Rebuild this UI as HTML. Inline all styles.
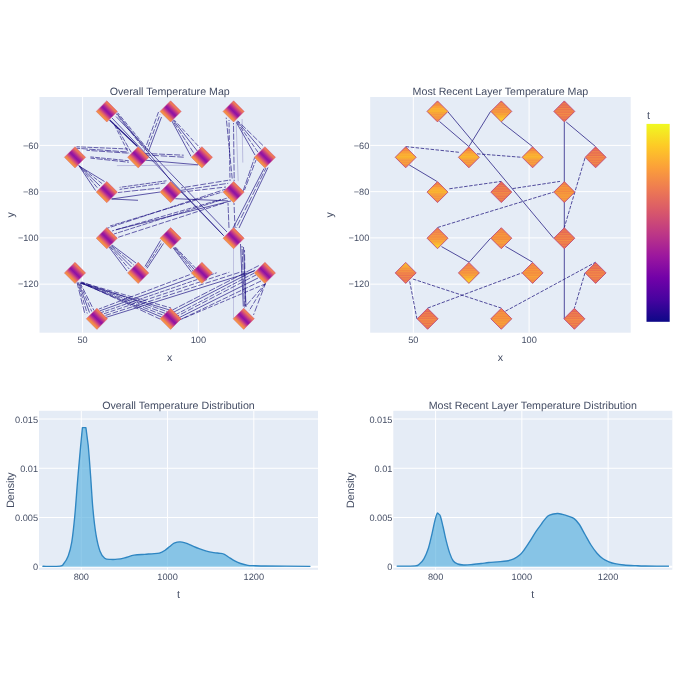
<!DOCTYPE html><html><head><meta charset="utf-8"><title>Temperature Maps</title><style>html,body{margin:0;padding:0;background:#fff;overflow:hidden}svg{display:block}</style></head><body>
<svg width="680" height="680" viewBox="0 0 680 680" font-family="'Liberation Sans', Arial, sans-serif" text-rendering="geometricPrecision">
<rect width="680" height="680" fill="#fff"/>
<defs>
<linearGradient id="cb" x1="0" y1="1" x2="0" y2="0"><stop offset="0.0000" stop-color="#0d0887"/><stop offset="0.1111" stop-color="#46039f"/><stop offset="0.2222" stop-color="#7201a8"/><stop offset="0.3333" stop-color="#9c179e"/><stop offset="0.4444" stop-color="#bd3786"/><stop offset="0.5556" stop-color="#d8576b"/><stop offset="0.6667" stop-color="#ed7953"/><stop offset="0.7778" stop-color="#fb9f3a"/><stop offset="0.8889" stop-color="#fdca26"/><stop offset="1.0000" stop-color="#f0f921"/></linearGradient>
<linearGradient id="dA" x1="0.75" y1="0.25" x2="0.25" y2="0.75"><stop offset="0" stop-color="#e86858"/><stop offset="0.08" stop-color="#f08050"/><stop offset="0.16" stop-color="#e06466"/><stop offset="0.28" stop-color="#c83c84"/><stop offset="0.4" stop-color="#a01e9c"/><stop offset="0.5" stop-color="#8e12a2"/><stop offset="0.6" stop-color="#a8249a"/><stop offset="0.7" stop-color="#cc4682"/><stop offset="0.8" stop-color="#e66a60"/><stop offset="0.9" stop-color="#f28a48"/><stop offset="1" stop-color="#f4a03c"/></linearGradient>
<linearGradient id="dYm" x1="0" y1="0" x2="0" y2="1"><stop offset="0" stop-color="#e86e50"/><stop offset="0.2" stop-color="#f4883f"/><stop offset="0.35" stop-color="#fba934"/><stop offset="0.5" stop-color="#f8b02e"/><stop offset="0.62" stop-color="#f59640"/><stop offset="0.8" stop-color="#f4903f"/><stop offset="1" stop-color="#ec7650"/></linearGradient>
<linearGradient id="dYb" x1="0" y1="0" x2="0" y2="1"><stop offset="0" stop-color="#e86e50"/><stop offset="0.25" stop-color="#f0804a"/><stop offset="0.5" stop-color="#f48c42"/><stop offset="0.7" stop-color="#f8a534"/><stop offset="0.85" stop-color="#fbc62a"/><stop offset="1" stop-color="#f6d028"/></linearGradient>
<linearGradient id="dYt" x1="0" y1="0" x2="0" y2="1"><stop offset="0" stop-color="#f6c02c"/><stop offset="0.2" stop-color="#f7a236"/><stop offset="0.45" stop-color="#ef7c4a"/><stop offset="0.7" stop-color="#ea6e52"/><stop offset="1" stop-color="#e8704e"/></linearGradient>
<linearGradient id="dO" x1="0" y1="0" x2="0" y2="1"><stop offset="0" stop-color="#ec7450"/><stop offset="0.3" stop-color="#f4883f"/><stop offset="0.5" stop-color="#f3873f"/><stop offset="0.7" stop-color="#f6963a"/><stop offset="1" stop-color="#ee7a4a"/></linearGradient>
<linearGradient id="dR" x1="0" y1="0" x2="0" y2="1"><stop offset="0" stop-color="#e05c5c"/><stop offset="0.3" stop-color="#e86a52"/><stop offset="0.6" stop-color="#ee784b"/><stop offset="1" stop-color="#e46356"/></linearGradient>
<pattern id="hs" patternUnits="userSpaceOnUse" width="6" height="2.4"><rect x="0" y="0" width="6" height="1.1" fill="#fcc63a" opacity="0.3"/></pattern>
<clipPath id="c1"><rect x="39.5" y="97.0" width="260.50" height="235.70"/></clipPath>
<clipPath id="c2"><rect x="370.2" y="97.0" width="260.50" height="235.70"/></clipPath>
<clipPath id="c3"><rect x="39.0" y="410.8" width="279.00" height="159.00"/></clipPath>
<clipPath id="c4"><rect x="393.3" y="410.8" width="279.00" height="159.00"/></clipPath>
</defs>
<rect x="39.50" y="97.00" width="260.50" height="235.70" fill="#E5ECF6"/>
<line x1="82.60" y1="97.00" x2="82.60" y2="332.70" stroke="#fff" stroke-width="1"/>
<line x1="198.40" y1="97.00" x2="198.40" y2="332.70" stroke="#fff" stroke-width="1"/>
<line x1="39.50" y1="145.40" x2="300.00" y2="145.40" stroke="#fff" stroke-width="1"/>
<line x1="39.50" y1="191.65" x2="300.00" y2="191.65" stroke="#fff" stroke-width="1"/>
<line x1="39.50" y1="237.90" x2="300.00" y2="237.90" stroke="#fff" stroke-width="1"/>
<line x1="39.50" y1="284.15" x2="300.00" y2="284.15" stroke="#fff" stroke-width="1"/>
<rect x="370.20" y="97.00" width="260.50" height="235.70" fill="#E5ECF6"/>
<line x1="413.30" y1="97.00" x2="413.30" y2="332.70" stroke="#fff" stroke-width="1"/>
<line x1="529.10" y1="97.00" x2="529.10" y2="332.70" stroke="#fff" stroke-width="1"/>
<line x1="370.20" y1="145.40" x2="630.70" y2="145.40" stroke="#fff" stroke-width="1"/>
<line x1="370.20" y1="191.65" x2="630.70" y2="191.65" stroke="#fff" stroke-width="1"/>
<line x1="370.20" y1="237.90" x2="630.70" y2="237.90" stroke="#fff" stroke-width="1"/>
<line x1="370.20" y1="284.15" x2="630.70" y2="284.15" stroke="#fff" stroke-width="1"/>
<g clip-path="url(#c1)">
<line x1="109.60" y1="120.00" x2="137.50" y2="146.50" stroke="#170a7e" stroke-width="1.1" opacity="0.95"/>
<line x1="116.15" y1="113.70" x2="143.70" y2="148.35" stroke="#170a7e" stroke-width="0.7" opacity="0.9" stroke-dasharray="5.3 1.3" stroke-dashoffset="3.3"/>
<line x1="117.65" y1="112.70" x2="145.70" y2="146.85" stroke="#170a7e" stroke-width="0.7" opacity="0.9" stroke-dasharray="4.7 1.6" stroke-dashoffset="1.8"/>
<line x1="114.50" y1="125.00" x2="128.75" y2="153.40" stroke="#170a7e" stroke-width="0.7" opacity="0.9" stroke-dasharray="4.6 1.6" stroke-dashoffset="0.2"/>
<line x1="115.50" y1="125.00" x2="131.25" y2="152.40" stroke="#170a7e" stroke-width="0.7" opacity="0.9" stroke-dasharray="5.6 1.3" stroke-dashoffset="0.5"/>
<line x1="117.00" y1="113.50" x2="171.00" y2="181.00" stroke="#170a7e" stroke-width="0.7" opacity="0.95"/>
<line x1="112.00" y1="118.00" x2="224.00" y2="236.00" stroke="#170a7e" stroke-width="0.7" opacity="0.95"/>
<line x1="116.00" y1="116.50" x2="227.00" y2="232.00" stroke="#170a7e" stroke-width="0.7" opacity="0.95"/>
<line x1="171.00" y1="181.50" x2="223.00" y2="235.00" stroke="#170a7e" stroke-width="0.7" opacity="0.95"/>
<line x1="158.50" y1="112.00" x2="144.50" y2="150.50" stroke="#170a7e" stroke-width="0.7" opacity="0.9" stroke-dasharray="5.6 1.9" stroke-dashoffset="0.6"/>
<line x1="160.00" y1="114.50" x2="146.50" y2="151.00" stroke="#170a7e" stroke-width="0.7" opacity="0.9" stroke-dasharray="5.1 1.7" stroke-dashoffset="4.7"/>
<line x1="161.50" y1="117.00" x2="148.50" y2="151.50" stroke="#170a7e" stroke-width="0.7" opacity="0.95"/>
<line x1="172.00" y1="121.25" x2="191.05" y2="156.45" stroke="#170a7e" stroke-width="0.7" opacity="0.95"/>
<line x1="172.67" y1="120.75" x2="194.28" y2="153.88" stroke="#170a7e" stroke-width="0.7" opacity="0.9" stroke-dasharray="5.9 1.5" stroke-dashoffset="4.9"/>
<line x1="173.33" y1="120.25" x2="197.52" y2="151.32" stroke="#170a7e" stroke-width="0.7" opacity="0.95"/>
<line x1="174.00" y1="119.75" x2="200.75" y2="148.75" stroke="#170a7e" stroke-width="0.7" opacity="0.9" stroke-dasharray="4.6 1.9" stroke-dashoffset="1.4"/>
<line x1="76.50" y1="146.75" x2="128.00" y2="149.00" stroke="#170a7e" stroke-width="0.7" opacity="0.9" stroke-dasharray="4.9 1.3" stroke-dashoffset="1.5"/>
<line x1="76.50" y1="148.25" x2="128.00" y2="152.00" stroke="#170a7e" stroke-width="0.7" opacity="0.9" stroke-dasharray="6.5 1.3" stroke-dashoffset="2.9"/>
<line x1="86.50" y1="150.30" x2="128.80" y2="153.20" stroke="#170a7e" stroke-width="0.7" opacity="0.9" stroke-dasharray="6.1 1.5" stroke-dashoffset="2.7"/>
<line x1="90.40" y1="156.90" x2="128.80" y2="160.75" stroke="#170a7e" stroke-width="0.7" opacity="0.9" stroke-dasharray="4.7 1.2" stroke-dashoffset="1.0"/>
<line x1="90.40" y1="158.10" x2="128.80" y2="162.25" stroke="#170a7e" stroke-width="0.7" opacity="0.9" stroke-dasharray="6.2 1.5" stroke-dashoffset="1.6"/>
<line x1="145.30" y1="153.45" x2="183.70" y2="155.20" stroke="#170a7e" stroke-width="0.7" opacity="0.9" stroke-dasharray="6.0 1.6" stroke-dashoffset="1.5"/>
<line x1="145.30" y1="154.95" x2="183.70" y2="157.20" stroke="#170a7e" stroke-width="0.7" opacity="0.9" stroke-dasharray="6.5 1.8" stroke-dashoffset="1.2"/>
<line x1="145.30" y1="160.20" x2="198.20" y2="164.80" stroke="#170a7e" stroke-width="0.7" opacity="0.95"/>
<line x1="116.90" y1="165.60" x2="198.20" y2="165.20" stroke="#8c88c4" stroke-width="0.8" opacity="0.6"/>
<line x1="226.20" y1="117.60" x2="232.20" y2="178.50" stroke="#170a7e" stroke-width="0.7" opacity="0.9" stroke-dasharray="5.9 1.6" stroke-dashoffset="4.4"/>
<line x1="233.50" y1="123.00" x2="234.20" y2="181.20" stroke="#170a7e" stroke-width="0.7" opacity="0.9" stroke-dasharray="6.3 1.4" stroke-dashoffset="4.9"/>
<line x1="236.20" y1="123.00" x2="238.20" y2="181.20" stroke="#8c88c4" stroke-width="0.8" opacity="0.6"/>
<line x1="242.10" y1="119.00" x2="242.80" y2="162.60" stroke="#8c88c4" stroke-width="0.8" opacity="0.6"/>
<line x1="229.00" y1="120.00" x2="230.00" y2="181.00" stroke="#170a7e" stroke-width="0.7" opacity="0.9" stroke-dasharray="4.8 1.5" stroke-dashoffset="3.8"/>
<line x1="236.25" y1="122.25" x2="255.00" y2="155.05" stroke="#170a7e" stroke-width="0.7" opacity="0.95"/>
<line x1="236.75" y1="121.75" x2="258.00" y2="152.22" stroke="#170a7e" stroke-width="0.7" opacity="0.9" stroke-dasharray="4.9 1.6" stroke-dashoffset="0.2"/>
<line x1="237.25" y1="121.25" x2="261.00" y2="149.38" stroke="#170a7e" stroke-width="0.7" opacity="0.95"/>
<line x1="237.75" y1="120.75" x2="264.00" y2="146.55" stroke="#170a7e" stroke-width="0.7" opacity="0.9" stroke-dasharray="6.2 1.8" stroke-dashoffset="2.9"/>
<line x1="254.70" y1="157.40" x2="242.80" y2="191.80" stroke="#170a7e" stroke-width="0.7" opacity="0.9" stroke-dasharray="6.7 1.5" stroke-dashoffset="3.5"/>
<line x1="256.00" y1="160.00" x2="244.50" y2="190.00" stroke="#170a7e" stroke-width="0.7" opacity="0.9" stroke-dasharray="6.0 1.7" stroke-dashoffset="2.3"/>
<line x1="264.00" y1="168.50" x2="233.00" y2="228.00" stroke="#170a7e" stroke-width="0.7" opacity="0.95"/>
<line x1="266.00" y1="168.00" x2="236.00" y2="228.00" stroke="#170a7e" stroke-width="0.7" opacity="0.9" stroke-dasharray="6.6 2.0" stroke-dashoffset="2.4"/>
<line x1="268.00" y1="167.50" x2="239.00" y2="228.00" stroke="#170a7e" stroke-width="0.7" opacity="0.95"/>
<line x1="228.00" y1="203.00" x2="229.00" y2="228.00" stroke="#170a7e" stroke-width="0.7" opacity="0.9" stroke-dasharray="6.2 1.2" stroke-dashoffset="3.5"/>
<line x1="234.00" y1="203.00" x2="235.00" y2="228.00" stroke="#170a7e" stroke-width="0.7" opacity="0.9" stroke-dasharray="6.1 2.0" stroke-dashoffset="4.1"/>
<line x1="78.70" y1="165.40" x2="95.50" y2="190.50" stroke="#170a7e" stroke-width="0.7" opacity="0.95"/>
<line x1="78.95" y1="165.65" x2="97.75" y2="188.25" stroke="#170a7e" stroke-width="0.7" opacity="0.9" stroke-dasharray="5.2 1.5" stroke-dashoffset="3.3"/>
<line x1="79.20" y1="165.90" x2="100.00" y2="186.00" stroke="#170a7e" stroke-width="0.7" opacity="0.95"/>
<line x1="79.45" y1="166.15" x2="102.25" y2="183.75" stroke="#170a7e" stroke-width="0.7" opacity="0.9" stroke-dasharray="4.6 1.6" stroke-dashoffset="0.8"/>
<line x1="79.70" y1="166.40" x2="104.50" y2="181.50" stroke="#170a7e" stroke-width="0.7" opacity="0.95"/>
<line x1="111.60" y1="199.00" x2="138.00" y2="200.30" stroke="#170a7e" stroke-width="0.7" opacity="0.95"/>
<line x1="111.60" y1="199.00" x2="160.00" y2="192.00" stroke="#170a7e" stroke-width="0.7" opacity="0.95"/>
<line x1="119.60" y1="187.40" x2="166.50" y2="180.80" stroke="#170a7e" stroke-width="0.7" opacity="0.9" stroke-dasharray="4.8 1.2" stroke-dashoffset="3.8"/>
<line x1="119.60" y1="189.40" x2="166.50" y2="182.80" stroke="#170a7e" stroke-width="0.7" opacity="0.9" stroke-dasharray="4.8 1.4" stroke-dashoffset="2.0"/>
<line x1="118.00" y1="192.50" x2="160.00" y2="188.00" stroke="#170a7e" stroke-width="0.7" opacity="0.9" stroke-dasharray="6.7 1.3" stroke-dashoffset="2.2"/>
<line x1="181.20" y1="187.85" x2="228.20" y2="180.30" stroke="#170a7e" stroke-width="0.7" opacity="0.9" stroke-dasharray="5.9 1.9" stroke-dashoffset="4.1"/>
<line x1="181.20" y1="190.35" x2="228.20" y2="183.30" stroke="#170a7e" stroke-width="0.7" opacity="0.9" stroke-dasharray="6.7 1.4" stroke-dashoffset="2.1"/>
<line x1="178.00" y1="192.50" x2="226.00" y2="187.00" stroke="#170a7e" stroke-width="0.7" opacity="0.9" stroke-dasharray="5.4 1.9" stroke-dashoffset="4.8"/>
<line x1="175.30" y1="198.70" x2="228.20" y2="200.90" stroke="#170a7e" stroke-width="0.7" opacity="0.95"/>
<line x1="110.00" y1="226.00" x2="222.40" y2="192.00" stroke="#170a7e" stroke-width="0.7" opacity="0.9" stroke-dasharray="4.9 1.3" stroke-dashoffset="1.2"/>
<line x1="112.00" y1="231.00" x2="221.00" y2="199.40" stroke="#170a7e" stroke-width="0.7" opacity="0.9" stroke-dasharray="5.1 1.6" stroke-dashoffset="2.9"/>
<line x1="114.00" y1="234.00" x2="229.00" y2="197.50" stroke="#170a7e" stroke-width="0.7" opacity="0.9" stroke-dasharray="5.2 1.2" stroke-dashoffset="2.1"/>
<line x1="116.00" y1="238.00" x2="224.00" y2="203.00" stroke="#170a7e" stroke-width="0.7" opacity="0.9" stroke-dasharray="5.4 1.7" stroke-dashoffset="4.8"/>
<line x1="106.50" y1="228.50" x2="226.00" y2="189.00" stroke="#170a7e" stroke-width="0.7" opacity="0.9" stroke-dasharray="6.2 1.6" stroke-dashoffset="3.1"/>
<line x1="116.00" y1="229.70" x2="231.20" y2="200.90" stroke="#170a7e" stroke-width="0.7" opacity="0.95"/>
<line x1="240.50" y1="244.00" x2="243.30" y2="306.50" stroke="#170a7e" stroke-width="0.7" opacity="0.95"/>
<line x1="242.00" y1="246.00" x2="244.50" y2="306.50" stroke="#170a7e" stroke-width="0.7" opacity="0.9" stroke-dasharray="6.2 1.2" stroke-dashoffset="4.5"/>
<line x1="243.50" y1="247.00" x2="246.00" y2="307.00" stroke="#170a7e" stroke-width="0.7" opacity="0.95"/>
<line x1="244.50" y1="250.00" x2="245.50" y2="306.00" stroke="#170a7e" stroke-width="0.7" opacity="0.9" stroke-dasharray="6.4 1.9" stroke-dashoffset="4.0"/>
<line x1="233.40" y1="245.00" x2="233.40" y2="318.00" stroke="#8c88c4" stroke-width="0.8" opacity="0.6"/>
<line x1="109.00" y1="247.00" x2="127.00" y2="271.00" stroke="#170a7e" stroke-width="0.7" opacity="0.95"/>
<line x1="109.75" y1="246.50" x2="129.25" y2="269.00" stroke="#170a7e" stroke-width="0.7" opacity="0.9" stroke-dasharray="5.5 1.5" stroke-dashoffset="0.5"/>
<line x1="110.50" y1="246.00" x2="131.50" y2="267.00" stroke="#170a7e" stroke-width="0.7" opacity="0.95"/>
<line x1="111.25" y1="245.50" x2="133.75" y2="265.00" stroke="#170a7e" stroke-width="0.7" opacity="0.9" stroke-dasharray="6.1 1.2" stroke-dashoffset="0.3"/>
<line x1="112.00" y1="245.00" x2="136.00" y2="263.00" stroke="#170a7e" stroke-width="0.7" opacity="0.95"/>
<line x1="145.00" y1="266.40" x2="160.50" y2="240.50" stroke="#170a7e" stroke-width="0.7" opacity="0.95"/>
<line x1="146.00" y1="267.40" x2="162.00" y2="242.00" stroke="#170a7e" stroke-width="0.7" opacity="0.9" stroke-dasharray="5.0 1.3" stroke-dashoffset="1.7"/>
<line x1="147.00" y1="268.40" x2="163.50" y2="243.50" stroke="#170a7e" stroke-width="0.7" opacity="0.95"/>
<line x1="173.30" y1="248.00" x2="191.60" y2="272.20" stroke="#170a7e" stroke-width="0.7" opacity="0.95"/>
<line x1="173.97" y1="247.67" x2="193.27" y2="271.20" stroke="#170a7e" stroke-width="0.7" opacity="0.9" stroke-dasharray="4.6 1.2" stroke-dashoffset="0.8"/>
<line x1="174.63" y1="247.33" x2="194.93" y2="270.20" stroke="#170a7e" stroke-width="0.7" opacity="0.95"/>
<line x1="175.30" y1="247.00" x2="196.60" y2="269.20" stroke="#170a7e" stroke-width="0.7" opacity="0.9" stroke-dasharray="4.8 1.5" stroke-dashoffset="0.1"/>
<line x1="77.00" y1="282.50" x2="85.00" y2="314.50" stroke="#170a7e" stroke-width="0.7" opacity="0.9" stroke-dasharray="6.7 1.7" stroke-dashoffset="0.7"/>
<line x1="77.75" y1="282.50" x2="87.25" y2="313.50" stroke="#170a7e" stroke-width="0.7" opacity="0.9" stroke-dasharray="5.1 1.5" stroke-dashoffset="1.8"/>
<line x1="78.50" y1="282.50" x2="89.50" y2="312.50" stroke="#170a7e" stroke-width="0.7" opacity="0.95"/>
<line x1="79.25" y1="282.50" x2="91.75" y2="311.50" stroke="#170a7e" stroke-width="0.7" opacity="0.9" stroke-dasharray="4.8 1.9" stroke-dashoffset="5.0"/>
<line x1="80.00" y1="282.50" x2="94.00" y2="310.50" stroke="#170a7e" stroke-width="0.7" opacity="0.9" stroke-dasharray="5.7 1.6" stroke-dashoffset="0.4"/>
<line x1="80.70" y1="282.25" x2="171.00" y2="308.00" stroke="#170a7e" stroke-width="0.7" opacity="0.9" stroke-dasharray="5.2 1.9" stroke-dashoffset="0.8"/>
<line x1="80.55" y1="283.22" x2="169.17" y2="309.83" stroke="#170a7e" stroke-width="0.7" opacity="0.95"/>
<line x1="81.56" y1="281.93" x2="167.33" y2="311.67" stroke="#170a7e" stroke-width="0.7" opacity="0.9" stroke-dasharray="5.9 1.2" stroke-dashoffset="2.6"/>
<line x1="82.46" y1="283.08" x2="165.50" y2="313.50" stroke="#170a7e" stroke-width="0.7" opacity="0.9" stroke-dasharray="6.2 1.4" stroke-dashoffset="1.8"/>
<line x1="80.83" y1="282.94" x2="163.67" y2="315.33" stroke="#170a7e" stroke-width="0.7" opacity="0.9" stroke-dasharray="5.8 1.8" stroke-dashoffset="1.6"/>
<line x1="80.95" y1="283.00" x2="161.83" y2="317.17" stroke="#170a7e" stroke-width="0.7" opacity="0.95"/>
<line x1="82.47" y1="283.06" x2="160.00" y2="319.00" stroke="#170a7e" stroke-width="0.7" opacity="0.9" stroke-dasharray="6.5 1.9" stroke-dashoffset="3.7"/>
<line x1="99.00" y1="309.00" x2="191.50" y2="274.00" stroke="#170a7e" stroke-width="0.7" opacity="0.9" stroke-dasharray="5.1 1.6" stroke-dashoffset="1.8"/>
<line x1="100.00" y1="310.80" x2="204.10" y2="273.40" stroke="#170a7e" stroke-width="0.7" opacity="0.95"/>
<line x1="101.00" y1="312.60" x2="216.70" y2="272.80" stroke="#170a7e" stroke-width="0.7" opacity="0.9" stroke-dasharray="4.6 1.2" stroke-dashoffset="1.4"/>
<line x1="102.00" y1="314.40" x2="229.30" y2="272.20" stroke="#170a7e" stroke-width="0.7" opacity="0.9" stroke-dasharray="5.1 1.8" stroke-dashoffset="4.8"/>
<line x1="103.00" y1="316.20" x2="241.90" y2="271.60" stroke="#170a7e" stroke-width="0.7" opacity="0.9" stroke-dasharray="5.6 1.9" stroke-dashoffset="4.9"/>
<line x1="104.00" y1="318.00" x2="254.50" y2="271.00" stroke="#170a7e" stroke-width="0.7" opacity="0.95"/>
<line x1="172.50" y1="310.00" x2="258.80" y2="265.60" stroke="#170a7e" stroke-width="0.7" opacity="0.9" stroke-dasharray="6.9 1.5" stroke-dashoffset="1.1"/>
<line x1="174.00" y1="312.00" x2="255.30" y2="270.00" stroke="#170a7e" stroke-width="0.7" opacity="0.95"/>
<line x1="176.00" y1="314.50" x2="254.50" y2="272.90" stroke="#170a7e" stroke-width="0.7" opacity="0.9" stroke-dasharray="5.1 1.4" stroke-dashoffset="1.0"/>
<line x1="177.50" y1="316.00" x2="256.00" y2="275.00" stroke="#170a7e" stroke-width="0.7" opacity="0.9" stroke-dasharray="6.1 1.9" stroke-dashoffset="4.2"/>
<line x1="178.50" y1="318.00" x2="258.00" y2="278.00" stroke="#170a7e" stroke-width="0.7" opacity="0.95"/>
<line x1="179.50" y1="320.00" x2="261.00" y2="281.00" stroke="#170a7e" stroke-width="0.7" opacity="0.9" stroke-dasharray="5.7 1.7" stroke-dashoffset="4.0"/>
<line x1="177.00" y1="321.00" x2="265.00" y2="284.00" stroke="#170a7e" stroke-width="0.7" opacity="0.9" stroke-dasharray="4.7 1.7" stroke-dashoffset="4.5"/>
<line x1="265.50" y1="283.50" x2="244.50" y2="307.50" stroke="#170a7e" stroke-width="0.7" opacity="0.9" stroke-dasharray="6.5 1.8" stroke-dashoffset="2.4"/>
<line x1="265.50" y1="283.50" x2="249.00" y2="311.00" stroke="#170a7e" stroke-width="0.7" opacity="0.9" stroke-dasharray="4.9 1.8" stroke-dashoffset="1.7"/>
<line x1="265.50" y1="283.50" x2="253.50" y2="315.00" stroke="#170a7e" stroke-width="0.7" opacity="0.9" stroke-dasharray="6.5 2.0" stroke-dashoffset="2.0"/>
</g>
<polygon points="106.80,100.80 117.40,111.40 106.80,122.00 96.20,111.40" fill="url(#dA)" stroke="#d8587a" stroke-width="0.5"/>
<polygon points="170.60,100.80 181.20,111.40 170.60,122.00 160.00,111.40" fill="url(#dA)" stroke="#d8587a" stroke-width="0.5"/>
<polygon points="233.60,100.80 244.20,111.40 233.60,122.00 223.00,111.40" fill="url(#dA)" stroke="#d8587a" stroke-width="0.5"/>
<polygon points="75.00,146.70 85.60,157.30 75.00,167.90 64.40,157.30" fill="url(#dA)" stroke="#d8587a" stroke-width="0.5"/>
<polygon points="138.20,146.70 148.80,157.30 138.20,167.90 127.60,157.30" fill="url(#dA)" stroke="#d8587a" stroke-width="0.5"/>
<polygon points="201.90,146.70 212.50,157.30 201.90,167.90 191.30,157.30" fill="url(#dA)" stroke="#d8587a" stroke-width="0.5"/>
<polygon points="264.90,146.70 275.50,157.30 264.90,167.90 254.30,157.30" fill="url(#dA)" stroke="#d8587a" stroke-width="0.5"/>
<polygon points="106.80,181.50 117.40,192.10 106.80,202.70 96.20,192.10" fill="url(#dA)" stroke="#d8587a" stroke-width="0.5"/>
<polygon points="170.60,181.50 181.20,192.10 170.60,202.70 160.00,192.10" fill="url(#dA)" stroke="#d8587a" stroke-width="0.5"/>
<polygon points="233.60,181.50 244.20,192.10 233.60,202.70 223.00,192.10" fill="url(#dA)" stroke="#d8587a" stroke-width="0.5"/>
<polygon points="106.80,227.60 117.40,238.20 106.80,248.80 96.20,238.20" fill="url(#dA)" stroke="#d8587a" stroke-width="0.5"/>
<polygon points="170.60,227.60 181.20,238.20 170.60,248.80 160.00,238.20" fill="url(#dA)" stroke="#d8587a" stroke-width="0.5"/>
<polygon points="233.60,227.60 244.20,238.20 233.60,248.80 223.00,238.20" fill="url(#dA)" stroke="#d8587a" stroke-width="0.5"/>
<polygon points="75.00,262.30 85.60,272.90 75.00,283.50 64.40,272.90" fill="url(#dA)" stroke="#d8587a" stroke-width="0.5"/>
<polygon points="138.20,262.30 148.80,272.90 138.20,283.50 127.60,272.90" fill="url(#dA)" stroke="#d8587a" stroke-width="0.5"/>
<polygon points="201.90,262.30 212.50,272.90 201.90,283.50 191.30,272.90" fill="url(#dA)" stroke="#d8587a" stroke-width="0.5"/>
<polygon points="264.90,262.30 275.50,272.90 264.90,283.50 254.30,272.90" fill="url(#dA)" stroke="#d8587a" stroke-width="0.5"/>
<polygon points="96.90,308.20 107.50,318.80 96.90,329.40 86.30,318.80" fill="url(#dA)" stroke="#d8587a" stroke-width="0.5"/>
<polygon points="170.60,308.20 181.20,318.80 170.60,329.40 160.00,318.80" fill="url(#dA)" stroke="#d8587a" stroke-width="0.5"/>
<polygon points="243.70,308.20 254.30,318.80 243.70,329.40 233.10,318.80" fill="url(#dA)" stroke="#d8587a" stroke-width="0.5"/>
<g clip-path="url(#c2)">
<line x1="439.50" y1="121.50" x2="468.90" y2="146.60" stroke="#221a80" stroke-width="0.9" opacity="0.85"/>
<line x1="468.90" y1="146.60" x2="490.60" y2="111.40" stroke="#221a80" stroke-width="0.9" opacity="0.85"/>
<line x1="501.30" y1="122.10" x2="532.60" y2="146.60" stroke="#221a80" stroke-width="0.9" opacity="0.85"/>
<line x1="405.70" y1="146.60" x2="460.00" y2="152.40" stroke="#221a80" stroke-width="0.9" opacity="0.85" stroke-dasharray="3.5 1.5"/>
<line x1="477.00" y1="153.80" x2="521.90" y2="157.30" stroke="#221a80" stroke-width="0.9" opacity="0.85" stroke-dasharray="3.5 1.5"/>
<line x1="409.20" y1="164.90" x2="436.90" y2="181.40" stroke="#221a80" stroke-width="0.9" opacity="0.85"/>
<line x1="449.30" y1="188.80" x2="501.30" y2="181.40" stroke="#221a80" stroke-width="0.9" opacity="0.85" stroke-dasharray="3.5 1.5"/>
<line x1="512.60" y1="188.60" x2="560.00" y2="181.40" stroke="#221a80" stroke-width="0.9" opacity="0.85" stroke-dasharray="3.5 1.5"/>
<line x1="437.50" y1="227.50" x2="553.60" y2="192.10" stroke="#221a80" stroke-width="0.9" opacity="0.85" stroke-dasharray="3.5 1.5"/>
<line x1="566.20" y1="122.00" x2="595.60" y2="146.60" stroke="#221a80" stroke-width="0.9" opacity="0.85"/>
<line x1="564.30" y1="122.10" x2="564.30" y2="318.80" stroke="#221a80" stroke-width="0.9" opacity="0.85"/>
<line x1="585.00" y1="158.00" x2="564.30" y2="227.50" stroke="#221a80" stroke-width="0.9" opacity="0.85" stroke-dasharray="3.5 1.5"/>
<line x1="448.00" y1="111.90" x2="553.60" y2="238.20" stroke="#221a80" stroke-width="0.9" opacity="0.85"/>
<line x1="441.50" y1="246.60" x2="469.20" y2="262.20" stroke="#221a80" stroke-width="0.9" opacity="0.85"/>
<line x1="469.20" y1="262.20" x2="490.60" y2="238.20" stroke="#221a80" stroke-width="0.9" opacity="0.85"/>
<line x1="409.70" y1="281.40" x2="416.90" y2="318.80" stroke="#221a80" stroke-width="0.9" opacity="0.85" stroke-dasharray="3.5 1.5"/>
<line x1="412.90" y1="279.00" x2="501.30" y2="308.10" stroke="#221a80" stroke-width="0.9" opacity="0.85" stroke-dasharray="3.5 1.5"/>
<line x1="427.60" y1="308.10" x2="521.90" y2="272.90" stroke="#221a80" stroke-width="0.9" opacity="0.85" stroke-dasharray="3.5 1.5"/>
<line x1="505.40" y1="246.30" x2="532.60" y2="262.20" stroke="#221a80" stroke-width="0.9" opacity="0.85"/>
<line x1="505.40" y1="311.20" x2="595.60" y2="262.20" stroke="#221a80" stroke-width="0.9" opacity="0.85" stroke-dasharray="3.5 1.5"/>
<line x1="585.00" y1="272.90" x2="574.40" y2="308.10" stroke="#221a80" stroke-width="0.9" opacity="0.85" stroke-dasharray="3.5 1.5"/>
</g>
<polygon points="437.50,100.90 448.00,111.40 437.50,121.90 427.00,111.40" fill="url(#dYm)"/>
<polygon points="437.50,100.90 448.00,111.40 437.50,121.90 427.00,111.40" fill="url(#hs)" stroke="#b8407a" stroke-width="0.8"/>
<polygon points="501.30,100.90 511.80,111.40 501.30,121.90 490.80,111.40" fill="url(#dYb)"/>
<polygon points="501.30,100.90 511.80,111.40 501.30,121.90 490.80,111.40" fill="url(#hs)" stroke="#b8407a" stroke-width="0.8"/>
<polygon points="564.30,100.90 574.80,111.40 564.30,121.90 553.80,111.40" fill="url(#dR)"/>
<polygon points="564.30,100.90 574.80,111.40 564.30,121.90 553.80,111.40" fill="url(#hs)" stroke="#b8407a" stroke-width="0.8"/>
<polygon points="405.70,146.80 416.20,157.30 405.70,167.80 395.20,157.30" fill="url(#dYm)"/>
<polygon points="405.70,146.80 416.20,157.30 405.70,167.80 395.20,157.30" fill="url(#hs)" stroke="#b8407a" stroke-width="0.8"/>
<polygon points="468.90,146.80 479.40,157.30 468.90,167.80 458.40,157.30" fill="url(#dYm)"/>
<polygon points="468.90,146.80 479.40,157.30 468.90,167.80 458.40,157.30" fill="url(#hs)" stroke="#b8407a" stroke-width="0.8"/>
<polygon points="532.60,146.80 543.10,157.30 532.60,167.80 522.10,157.30" fill="url(#dYm)"/>
<polygon points="532.60,146.80 543.10,157.30 532.60,167.80 522.10,157.30" fill="url(#hs)" stroke="#b8407a" stroke-width="0.8"/>
<polygon points="595.60,146.80 606.10,157.30 595.60,167.80 585.10,157.30" fill="url(#dR)"/>
<polygon points="595.60,146.80 606.10,157.30 595.60,167.80 585.10,157.30" fill="url(#hs)" stroke="#b8407a" stroke-width="0.8"/>
<polygon points="437.50,181.60 448.00,192.10 437.50,202.60 427.00,192.10" fill="url(#dYm)"/>
<polygon points="437.50,181.60 448.00,192.10 437.50,202.60 427.00,192.10" fill="url(#hs)" stroke="#b8407a" stroke-width="0.8"/>
<polygon points="501.30,181.60 511.80,192.10 501.30,202.60 490.80,192.10" fill="url(#dR)"/>
<polygon points="501.30,181.60 511.80,192.10 501.30,202.60 490.80,192.10" fill="url(#hs)" stroke="#b8407a" stroke-width="0.8"/>
<polygon points="564.30,181.60 574.80,192.10 564.30,202.60 553.80,192.10" fill="url(#dO)"/>
<polygon points="564.30,181.60 574.80,192.10 564.30,202.60 553.80,192.10" fill="url(#hs)" stroke="#b8407a" stroke-width="0.8"/>
<polygon points="437.50,227.70 448.00,238.20 437.50,248.70 427.00,238.20" fill="url(#dYb)"/>
<polygon points="437.50,227.70 448.00,238.20 437.50,248.70 427.00,238.20" fill="url(#hs)" stroke="#b8407a" stroke-width="0.8"/>
<polygon points="501.30,227.70 511.80,238.20 501.30,248.70 490.80,238.20" fill="url(#dO)"/>
<polygon points="501.30,227.70 511.80,238.20 501.30,248.70 490.80,238.20" fill="url(#hs)" stroke="#b8407a" stroke-width="0.8"/>
<polygon points="564.30,227.70 574.80,238.20 564.30,248.70 553.80,238.20" fill="url(#dR)"/>
<polygon points="564.30,227.70 574.80,238.20 564.30,248.70 553.80,238.20" fill="url(#hs)" stroke="#b8407a" stroke-width="0.8"/>
<polygon points="405.70,262.40 416.20,272.90 405.70,283.40 395.20,272.90" fill="url(#dYt)"/>
<polygon points="405.70,262.40 416.20,272.90 405.70,283.40 395.20,272.90" fill="url(#hs)" stroke="#b8407a" stroke-width="0.8"/>
<polygon points="468.90,262.40 479.40,272.90 468.90,283.40 458.40,272.90" fill="url(#dYb)"/>
<polygon points="468.90,262.40 479.40,272.90 468.90,283.40 458.40,272.90" fill="url(#hs)" stroke="#b8407a" stroke-width="0.8"/>
<polygon points="532.60,262.40 543.10,272.90 532.60,283.40 522.10,272.90" fill="url(#dO)"/>
<polygon points="532.60,262.40 543.10,272.90 532.60,283.40 522.10,272.90" fill="url(#hs)" stroke="#b8407a" stroke-width="0.8"/>
<polygon points="595.60,262.40 606.10,272.90 595.60,283.40 585.10,272.90" fill="url(#dR)"/>
<polygon points="595.60,262.40 606.10,272.90 595.60,283.40 585.10,272.90" fill="url(#hs)" stroke="#b8407a" stroke-width="0.8"/>
<polygon points="427.60,308.30 438.10,318.80 427.60,329.30 417.10,318.80" fill="url(#dR)"/>
<polygon points="427.60,308.30 438.10,318.80 427.60,329.30 417.10,318.80" fill="url(#hs)" stroke="#b8407a" stroke-width="0.8"/>
<polygon points="501.30,308.30 511.80,318.80 501.30,329.30 490.80,318.80" fill="url(#dO)"/>
<polygon points="501.30,308.30 511.80,318.80 501.30,329.30 490.80,318.80" fill="url(#hs)" stroke="#b8407a" stroke-width="0.8"/>
<polygon points="574.40,308.30 584.90,318.80 574.40,329.30 563.90,318.80" fill="url(#dR)"/>
<polygon points="574.40,308.30 584.90,318.80 574.40,329.30 563.90,318.80" fill="url(#hs)" stroke="#b8407a" stroke-width="0.8"/>
<text x="82.60" y="342.80" font-size="9.2" text-anchor="middle" fill="#444d64" >50</text>
<text x="198.40" y="342.80" font-size="9.2" text-anchor="middle" fill="#444d64" >100</text>
<text x="38.60" y="148.70" font-size="9.2" text-anchor="end" fill="#444d64" >−60</text>
<text x="38.60" y="194.95" font-size="9.2" text-anchor="end" fill="#444d64" >−80</text>
<text x="38.60" y="241.20" font-size="9.2" text-anchor="end" fill="#444d64" >−100</text>
<text x="38.60" y="287.45" font-size="9.2" text-anchor="end" fill="#444d64" >−120</text>
<text x="169.75" y="360.70" font-size="10.66" text-anchor="middle" fill="#444d64" >x</text>
<text x="13.80" y="214.85" font-size="10.66" text-anchor="middle" fill="#444d64" transform="rotate(-90 13.80 214.85)">y</text>
<text x="413.30" y="342.80" font-size="9.2" text-anchor="middle" fill="#444d64" >50</text>
<text x="529.10" y="342.80" font-size="9.2" text-anchor="middle" fill="#444d64" >100</text>
<text x="369.30" y="148.70" font-size="9.2" text-anchor="end" fill="#444d64" >−60</text>
<text x="369.30" y="194.95" font-size="9.2" text-anchor="end" fill="#444d64" >−80</text>
<text x="369.30" y="241.20" font-size="9.2" text-anchor="end" fill="#444d64" >−100</text>
<text x="369.30" y="287.45" font-size="9.2" text-anchor="end" fill="#444d64" >−120</text>
<text x="500.45" y="360.70" font-size="10.66" text-anchor="middle" fill="#444d64" >x</text>
<text x="333.10" y="214.85" font-size="10.66" text-anchor="middle" fill="#444d64" transform="rotate(-90 333.10 214.85)">y</text>
<text x="169.75" y="94.60" font-size="10.66" text-anchor="middle" fill="#444d64" >Overall Temperature Map</text>
<text x="500.45" y="94.60" font-size="10.66" text-anchor="middle" fill="#444d64" >Most Recent Layer Temperature Map</text>
<rect x="646.5" y="123.9" width="23.2" height="197.9" fill="url(#cb)"/>
<text x="646.90" y="118.70" font-size="10.66" text-anchor="start" fill="#444d64" >t</text>
<rect x="39.00" y="410.80" width="279.00" height="159.00" fill="#E5ECF6"/>
<line x1="81.30" y1="410.80" x2="81.30" y2="569.80" stroke="#fff" stroke-width="1"/>
<line x1="167.55" y1="410.80" x2="167.55" y2="569.80" stroke="#fff" stroke-width="1"/>
<line x1="253.80" y1="410.80" x2="253.80" y2="569.80" stroke="#fff" stroke-width="1"/>
<line x1="39.00" y1="419.00" x2="318.00" y2="419.00" stroke="#fff" stroke-width="1"/>
<line x1="39.00" y1="468.25" x2="318.00" y2="468.25" stroke="#fff" stroke-width="1"/>
<line x1="39.00" y1="517.50" x2="318.00" y2="517.50" stroke="#fff" stroke-width="1"/>
<line x1="39.00" y1="566.70" x2="318.00" y2="566.70" stroke="#fff" stroke-width="2"/>
<path d="M42.40,566.30 C45.33,566.27 56.48,566.48 60.00,566.10 C63.52,565.72 62.13,565.70 63.50,564.00 C64.87,562.30 66.82,559.60 68.20,555.90 C69.58,552.20 70.70,548.47 71.80,541.80 C72.90,535.13 73.83,526.10 74.80,515.90 C75.77,505.70 76.65,491.98 77.60,480.60 C78.55,469.22 79.70,456.43 80.50,447.60 L82.40,427.60 L85.90,427.60 L88.20,445.30 C88.98,453.35 89.82,465.32 90.60,475.90 C91.38,486.48 92.00,499.00 92.90,508.80 C93.80,518.60 94.82,527.63 96.00,534.70 C97.18,541.77 98.55,547.28 100.00,551.20 C101.45,555.12 102.93,556.83 104.70,558.20 C106.47,559.57 108.45,559.23 110.60,559.40 C112.75,559.57 115.25,559.47 117.60,559.20 C119.95,558.93 121.95,558.47 124.70,557.80 C127.45,557.13 130.77,555.78 134.10,555.20 C137.43,554.62 141.72,554.53 144.70,554.30 C147.68,554.07 149.55,554.00 152.00,553.80 C154.45,553.60 157.18,553.72 159.40,553.10 C161.62,552.48 163.58,551.20 165.30,550.10 C167.02,549.00 168.23,547.65 169.70,546.50 C171.17,545.35 172.38,543.98 174.10,543.20 C175.82,542.42 178.03,541.80 180.00,541.80 C181.97,541.80 183.93,542.55 185.90,543.20 C187.87,543.85 189.60,544.78 191.80,545.70 C194.00,546.62 196.65,547.78 199.10,548.70 C201.55,549.62 204.05,550.55 206.50,551.20 C208.95,551.85 211.55,552.25 213.80,552.60 C216.05,552.95 218.23,553.02 220.00,553.30 C221.77,553.58 222.93,553.65 224.40,554.30 C225.87,554.95 227.08,556.10 228.80,557.20 C230.52,558.30 232.73,559.85 234.70,560.90 C236.67,561.95 238.40,562.77 240.60,563.50 C242.80,564.23 245.70,564.93 247.90,565.30 C250.10,565.67 251.10,565.58 253.80,565.70 C256.50,565.82 254.67,565.90 264.10,566.00 C273.53,566.10 302.68,566.25 310.40,566.30 L310.40,566.7 L42.40,566.7 Z" fill="rgba(95,180,223,0.7)" stroke="none"/>
<path d="M42.40,566.30 C45.33,566.27 56.48,566.48 60.00,566.10 C63.52,565.72 62.13,565.70 63.50,564.00 C64.87,562.30 66.82,559.60 68.20,555.90 C69.58,552.20 70.70,548.47 71.80,541.80 C72.90,535.13 73.83,526.10 74.80,515.90 C75.77,505.70 76.65,491.98 77.60,480.60 C78.55,469.22 79.70,456.43 80.50,447.60 L82.40,427.60 L85.90,427.60 L88.20,445.30 C88.98,453.35 89.82,465.32 90.60,475.90 C91.38,486.48 92.00,499.00 92.90,508.80 C93.80,518.60 94.82,527.63 96.00,534.70 C97.18,541.77 98.55,547.28 100.00,551.20 C101.45,555.12 102.93,556.83 104.70,558.20 C106.47,559.57 108.45,559.23 110.60,559.40 C112.75,559.57 115.25,559.47 117.60,559.20 C119.95,558.93 121.95,558.47 124.70,557.80 C127.45,557.13 130.77,555.78 134.10,555.20 C137.43,554.62 141.72,554.53 144.70,554.30 C147.68,554.07 149.55,554.00 152.00,553.80 C154.45,553.60 157.18,553.72 159.40,553.10 C161.62,552.48 163.58,551.20 165.30,550.10 C167.02,549.00 168.23,547.65 169.70,546.50 C171.17,545.35 172.38,543.98 174.10,543.20 C175.82,542.42 178.03,541.80 180.00,541.80 C181.97,541.80 183.93,542.55 185.90,543.20 C187.87,543.85 189.60,544.78 191.80,545.70 C194.00,546.62 196.65,547.78 199.10,548.70 C201.55,549.62 204.05,550.55 206.50,551.20 C208.95,551.85 211.55,552.25 213.80,552.60 C216.05,552.95 218.23,553.02 220.00,553.30 C221.77,553.58 222.93,553.65 224.40,554.30 C225.87,554.95 227.08,556.10 228.80,557.20 C230.52,558.30 232.73,559.85 234.70,560.90 C236.67,561.95 238.40,562.77 240.60,563.50 C242.80,564.23 245.70,564.93 247.90,565.30 C250.10,565.67 251.10,565.58 253.80,565.70 C256.50,565.82 254.67,565.90 264.10,566.00 C273.53,566.10 302.68,566.25 310.40,566.30" fill="none" stroke="#2f86c2" stroke-width="1.35" stroke-linejoin="round"/>
<text x="81.30" y="580.00" font-size="9.2" text-anchor="middle" fill="#444d64" >800</text>
<text x="167.55" y="580.00" font-size="9.2" text-anchor="middle" fill="#444d64" >1000</text>
<text x="253.80" y="580.00" font-size="9.2" text-anchor="middle" fill="#444d64" >1200</text>
<text x="38.10" y="422.70" font-size="9.2" text-anchor="end" fill="#444d64" >0.015</text>
<text x="38.10" y="471.95" font-size="9.2" text-anchor="end" fill="#444d64" >0.01</text>
<text x="38.10" y="521.20" font-size="9.2" text-anchor="end" fill="#444d64" >0.005</text>
<text x="38.10" y="570.40" font-size="9.2" text-anchor="end" fill="#444d64" >0</text>
<text x="178.50" y="597.60" font-size="10.66" text-anchor="middle" fill="#444d64" >t</text>
<text x="13.90" y="490.10" font-size="10.66" text-anchor="middle" fill="#444d64" transform="rotate(-90 13.90 490.10)">Density</text>
<text x="178.50" y="408.50" font-size="10.66" text-anchor="middle" fill="#444d64" >Overall Temperature Distribution</text>
<rect x="393.30" y="410.80" width="279.00" height="159.00" fill="#E5ECF6"/>
<line x1="435.60" y1="410.80" x2="435.60" y2="569.80" stroke="#fff" stroke-width="1"/>
<line x1="521.85" y1="410.80" x2="521.85" y2="569.80" stroke="#fff" stroke-width="1"/>
<line x1="608.10" y1="410.80" x2="608.10" y2="569.80" stroke="#fff" stroke-width="1"/>
<line x1="393.30" y1="419.00" x2="672.30" y2="419.00" stroke="#fff" stroke-width="1"/>
<line x1="393.30" y1="468.25" x2="672.30" y2="468.25" stroke="#fff" stroke-width="1"/>
<line x1="393.30" y1="517.50" x2="672.30" y2="517.50" stroke="#fff" stroke-width="1"/>
<line x1="393.30" y1="566.70" x2="672.30" y2="566.70" stroke="#fff" stroke-width="2"/>
<path d="M396.70,566.20 C399.77,566.15 411.30,566.27 415.10,565.90 C418.90,565.53 418.03,565.18 419.50,564.00 C420.97,562.82 422.43,561.38 423.90,558.80 C425.37,556.22 426.95,552.67 428.30,548.50 C429.65,544.33 430.90,538.45 432.00,533.80 C433.10,529.15 434.05,523.98 434.90,520.60 C435.75,517.22 436.48,514.60 437.10,513.50 C437.72,512.40 438.05,513.55 438.60,514.00 C439.15,514.45 439.67,514.12 440.40,516.20 C441.13,518.28 442.08,522.58 443.00,526.50 C443.92,530.42 444.80,535.30 445.90,539.70 C447.00,544.10 448.37,549.35 449.60,552.90 C450.83,556.45 451.95,559.15 453.30,561.00 C454.65,562.85 455.98,563.33 457.70,564.00 C459.42,564.67 461.38,564.88 463.60,565.00 C465.82,565.12 468.07,564.95 471.00,564.70 C473.93,564.45 478.23,563.87 481.20,563.50 C484.17,563.13 486.07,562.78 488.80,562.50 C491.53,562.22 494.65,562.05 497.60,561.80 C500.55,561.55 503.80,561.50 506.50,561.00 C509.20,560.50 511.60,559.78 513.80,558.80 C516.00,557.82 517.98,556.57 519.70,555.10 C521.42,553.63 522.38,552.32 524.10,550.00 C525.82,547.68 528.03,544.27 530.00,541.20 C531.97,538.13 533.93,534.55 535.90,531.60 C537.87,528.65 539.85,526.07 541.80,523.50 C543.75,520.93 545.65,517.78 547.60,516.20 C549.55,514.62 551.78,514.45 553.50,514.00 C555.22,513.55 556.42,513.43 557.90,513.50 C559.38,513.57 560.68,513.95 562.40,514.40 C564.12,514.85 566.25,515.50 568.20,516.20 C570.15,516.90 572.30,517.30 574.10,518.60 C575.90,519.90 577.18,521.35 579.00,524.00 C580.82,526.65 583.00,531.00 585.00,534.50 C587.00,538.00 589.00,541.88 591.00,545.00 C593.00,548.12 595.00,550.90 597.00,553.20 C599.00,555.50 601.00,557.37 603.00,558.80 C605.00,560.23 607.00,560.98 609.00,561.80 C611.00,562.62 612.50,563.17 615.00,563.70 C617.50,564.23 620.50,564.67 624.00,565.00 C627.50,565.33 632.50,565.53 636.00,565.70 C639.50,565.87 639.50,565.93 645.00,566.00 C650.50,566.07 665.00,566.08 669.00,566.10 L669.00,566.7 L396.70,566.7 Z" fill="rgba(95,180,223,0.7)" stroke="none"/>
<path d="M396.70,566.20 C399.77,566.15 411.30,566.27 415.10,565.90 C418.90,565.53 418.03,565.18 419.50,564.00 C420.97,562.82 422.43,561.38 423.90,558.80 C425.37,556.22 426.95,552.67 428.30,548.50 C429.65,544.33 430.90,538.45 432.00,533.80 C433.10,529.15 434.05,523.98 434.90,520.60 C435.75,517.22 436.48,514.60 437.10,513.50 C437.72,512.40 438.05,513.55 438.60,514.00 C439.15,514.45 439.67,514.12 440.40,516.20 C441.13,518.28 442.08,522.58 443.00,526.50 C443.92,530.42 444.80,535.30 445.90,539.70 C447.00,544.10 448.37,549.35 449.60,552.90 C450.83,556.45 451.95,559.15 453.30,561.00 C454.65,562.85 455.98,563.33 457.70,564.00 C459.42,564.67 461.38,564.88 463.60,565.00 C465.82,565.12 468.07,564.95 471.00,564.70 C473.93,564.45 478.23,563.87 481.20,563.50 C484.17,563.13 486.07,562.78 488.80,562.50 C491.53,562.22 494.65,562.05 497.60,561.80 C500.55,561.55 503.80,561.50 506.50,561.00 C509.20,560.50 511.60,559.78 513.80,558.80 C516.00,557.82 517.98,556.57 519.70,555.10 C521.42,553.63 522.38,552.32 524.10,550.00 C525.82,547.68 528.03,544.27 530.00,541.20 C531.97,538.13 533.93,534.55 535.90,531.60 C537.87,528.65 539.85,526.07 541.80,523.50 C543.75,520.93 545.65,517.78 547.60,516.20 C549.55,514.62 551.78,514.45 553.50,514.00 C555.22,513.55 556.42,513.43 557.90,513.50 C559.38,513.57 560.68,513.95 562.40,514.40 C564.12,514.85 566.25,515.50 568.20,516.20 C570.15,516.90 572.30,517.30 574.10,518.60 C575.90,519.90 577.18,521.35 579.00,524.00 C580.82,526.65 583.00,531.00 585.00,534.50 C587.00,538.00 589.00,541.88 591.00,545.00 C593.00,548.12 595.00,550.90 597.00,553.20 C599.00,555.50 601.00,557.37 603.00,558.80 C605.00,560.23 607.00,560.98 609.00,561.80 C611.00,562.62 612.50,563.17 615.00,563.70 C617.50,564.23 620.50,564.67 624.00,565.00 C627.50,565.33 632.50,565.53 636.00,565.70 C639.50,565.87 639.50,565.93 645.00,566.00 C650.50,566.07 665.00,566.08 669.00,566.10" fill="none" stroke="#2f86c2" stroke-width="1.35" stroke-linejoin="round"/>
<text x="435.60" y="580.00" font-size="9.2" text-anchor="middle" fill="#444d64" >800</text>
<text x="521.85" y="580.00" font-size="9.2" text-anchor="middle" fill="#444d64" >1000</text>
<text x="608.10" y="580.00" font-size="9.2" text-anchor="middle" fill="#444d64" >1200</text>
<text x="392.40" y="422.70" font-size="9.2" text-anchor="end" fill="#444d64" >0.015</text>
<text x="392.40" y="471.95" font-size="9.2" text-anchor="end" fill="#444d64" >0.01</text>
<text x="392.40" y="521.20" font-size="9.2" text-anchor="end" fill="#444d64" >0.005</text>
<text x="392.40" y="570.40" font-size="9.2" text-anchor="end" fill="#444d64" >0</text>
<text x="532.80" y="597.60" font-size="10.66" text-anchor="middle" fill="#444d64" >t</text>
<text x="353.90" y="490.10" font-size="10.66" text-anchor="middle" fill="#444d64" transform="rotate(-90 353.90 490.10)">Density</text>
<text x="532.80" y="408.50" font-size="10.66" text-anchor="middle" fill="#444d64" >Most Recent Layer Temperature Distribution</text>
</svg></body></html>
